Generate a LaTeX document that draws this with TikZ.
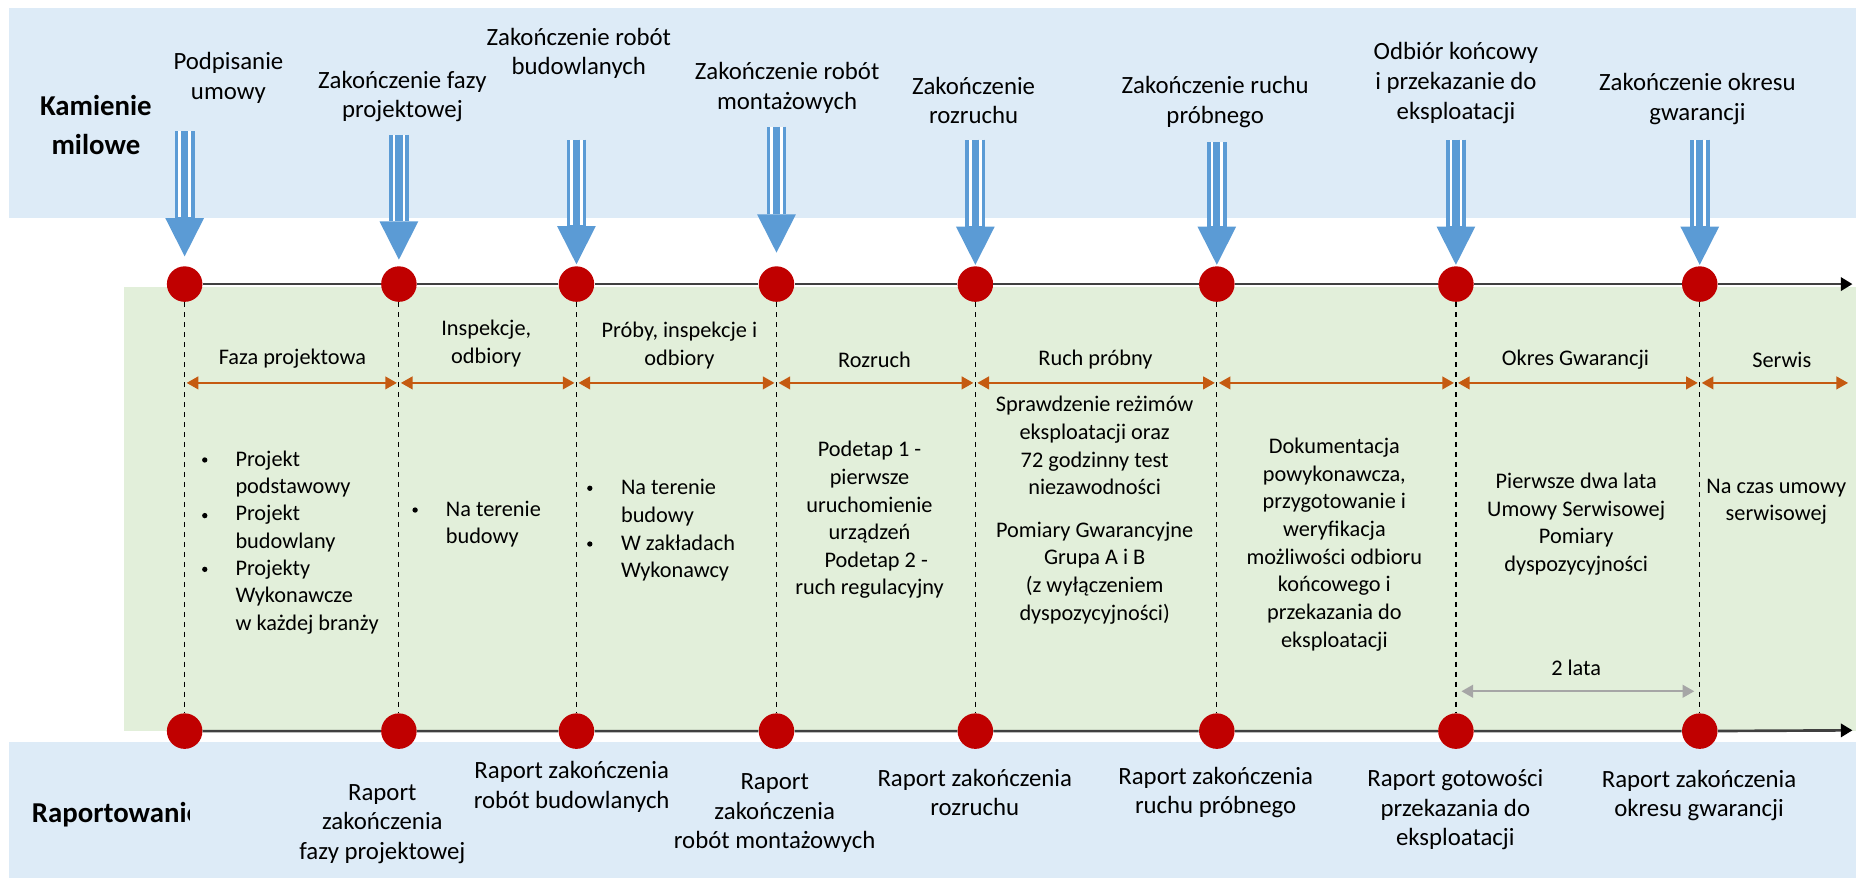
\documentclass[tikz,border=0pt]{standalone}
\usepackage{fontspec}
\setmainfont{Carlito}
\usepackage{tikz}
\usetikzlibrary{arrows.meta}
\usetikzlibrary{positioning}

\definecolor{bandblue}{RGB}{221,235,247}
\definecolor{bandgreen}{RGB}{226,239,218}
\definecolor{arrowblue}{RGB}{91,155,213}
\definecolor{dotred}{RGB}{192,0,0}
\definecolor{spanorange}{RGB}{197,90,17}
\definecolor{spangray}{RGB}{166,166,166}

\begin{document}
\begin{tikzpicture}
          [x=0.025cm, y=-0.025cm, node distance=8.675cm,
           every node/.style={align=center, inner sep=0pt, font=\fontsize{13.4}{16.6}\selectfont},
           mslabel/.style={font=\fontsize{14.9}{17.8}\selectfont},
           heading/.style={font=\fontsize{17.3}{23.4}\selectfont\bfseries},
           reddot/.style={circle, fill=dotred, minimum size=0.75cm},
           itemdot/.style={circle, fill=black, minimum size=3.2pt},
           timeline/.style={draw=black!75, line width=1.6pt, -{Triangle[length=7pt, width=8pt, color=black]}},
           msarrow/.style={draw=arrowblue, line width=11.9pt, shorten >=#1,
             -{Triangle[length=23pt, width=23.3pt, line width=0pt]},
             postaction={draw=white, double=arrowblue, line width=1.5pt, double distance=4.4pt,
               shorten >=#1+23.5pt, arrows=-}},
           msarrow/.default=0.7pt,
           phasespan/.style={draw=spanorange, line width=1.2pt, >={Triangle[length=7pt, width=7.6pt]}, <->,
             shorten <=1.2pt, shorten >=1.2pt},
           yearspan/.style={phasespan, draw=spangray, shorten <=3.3pt, shorten >=3.3pt}]

          \useasboundingbox (0,0) rectangle (1568,749);

          \fill[bandblue] (8,7) rectangle (1568,184.4);
          \fill[bandgreen] (105,242.7) rectangle (1568,617.3);
          \fill[bandblue] (8,626.6) rectangle (1568,742);

          \node (t1) [reddot] at (156,240) {};
          \node (t2) [reddot] at (337,240) {};
          \node (t3) [reddot] at (487,240) {};
          \node (t4) [reddot] at (656,240) {};
          \node (t5) [reddot] at (824,240) {};
          \node (t6) [reddot] at (1028,240) {};
          \node (t7) [reddot] at (1230,240) {};
          \node (t8) [reddot] at (1436,240) {};

          \node (b1) [reddot, below = of t1] {};
          \node (b2) [reddot, below = of t2] {};
          \node (b3) [reddot, below = of t3] {};
          \node (b4) [reddot, below = of t4] {};
          \node (b5) [reddot, below = of t5] {};
          \node (b6) [reddot, below = of t6] {};
          \node (b7) [reddot, below = of t7] {};
          \node (b8) [reddot, below = of t8] {};

          \coordinate (tend) at (1565,240);
          \coordinate (bend) at (1565,617);

          \draw[timeline] (t1) -- (t2) -- (t3) -- (t4) -- (t5) -- (t6) -- (t7) -- (t8) -- (tend);
          \draw[timeline] (b1) -- (b2) -- (b3) -- (b4) -- (b5) -- (b6) -- (b7) -- (b8) -- (bend);

          \draw[dashed, line width=0.7pt] (t1) -- (b1);
          \draw[dashed, line width=0.7pt] (t2) -- (b2);
          \draw[dashed, line width=0.7pt] (t3) -- (b3);
          \draw[dashed, line width=0.7pt] (t4) -- (b4);
          \draw[dashed, line width=0.7pt] (t5) -- (b5);
          \draw[dashed, line width=0.7pt] (t6) -- (b6);
          \draw[dashed, line width=0.7pt] (t7) -- (b7);
          \draw[dashed, line width=0.7pt] (t8) -- (b8);

          \coordinate (s1) at (156,111);
          \coordinate (s2) at (337,114);
          \coordinate (s3) at (487,118);
          \coordinate (s4) at (656,107);
          \coordinate (s5) at (824,118);
          \coordinate (s6) at (1028,120);
          \coordinate (s7) at (1230,118);
          \coordinate (s8) at (1436,118);

          \draw[msarrow=5.8pt] (s1) -- (t1);
          \draw[msarrow=3.8pt] (s2) -- (t2);
          \draw[msarrow=1pt] (s3) -- (t3);
          \draw[msarrow=8pt] (s4) -- (t4);
          \draw[msarrow] (s5) -- (t5);
          \draw[msarrow] (s6) -- (t6);
          \draw[msarrow] (s7) -- (t7);
          \draw[msarrow] (s8) -- (t8);

          \node (kam) [heading] at (81,106) {Kamienie\\milowe};
          \begin{scope}
            \clip (0,626.6) rectangle (160,742);
            \node (rap) [heading, anchor=west] at (26.7,688.5) {Raportowanie};
          \end{scope}

          \node (m1) [mslabel] at (193,66) {Podpisanie\\umowy};
          \node (m2) [mslabel] at (340,81.4) {Zakończenie fazy\\projektowej};
          \node (m3) [mslabel] at (489,45) {Zakończenie robót\\budowlanych};
          \node (m4) [mslabel] at (665,74) {Zakończenie robót\\montażowych};
          \node (m5) [mslabel] at (822.5,85) {Zakończenie\\rozruchu};
          \node (m6) [mslabel] at (1026.6,86) {Zakończenie ruchu\\próbnego};
          \node (m7) [mslabel] at (1230,70.2) {Odbiór końcowy\\i przekazanie do\\eksploatacji};
          \node (m8) [mslabel] at (1434,83.4) {Zakończenie okresu\\gwarancji};

          \coordinate (p1) at (156,323.5);
          \coordinate (p2) at (337,323.5);
          \coordinate (p3) at (487,323.5);
          \coordinate (p4) at (656,323.5);
          \coordinate (p5) at (824,323.5);
          \coordinate (p6) at (1028,323.5);
          \coordinate (p7) at (1230,323.5);
          \coordinate (p8) at (1436,323.5);
          \coordinate (p9) at (1563,323.5);

          \draw[phasespan] (p1) -- (p2);
          \draw[phasespan] (p2) -- (p3);
          \draw[phasespan] (p3) -- (p4);
          \draw[phasespan] (p4) -- (p5);
          \draw[phasespan] (p5) -- (p6);
          \draw[phasespan] (p6) -- (p7);
          \draw[phasespan] (p7) -- (p8);
          \draw[phasespan] (p8) -- (p9);

          \node (f1) [] at (247,302.7) {Faza projektowa};
          \node (f2) [] at (410.8,290.3) {Inspekcje,\\odbiory};
          \node (f3) [] at (574,292) {Próby, inspekcje i\\odbiory};
          \node (f4) [] at (738.8,304) {Rozruch};
          \node (f5) [] at (925.5,304) {Ruch próbny};
          \node (f7) [] at (1331,304) {Okres Gwarancji};
          \node (f8) [] at (1505.3,304) {Serwis};

          \node (d11) [itemdot] at (173,388.6) {};
          \node (d12) [itemdot] at (173,435.6) {};
          \node (d13) [itemdot] at (173,481) {};
          \node (e11) [anchor=west, align=left] at (198.7,400.5) {Projekt\\podstawowy};
          \node (e12) [anchor=west, align=left] at (198.7,446.6) {Projekt\\budowlany};
          \node (e13) [anchor=west, align=left] at (198.7,504.3) {Projekty\\Wykonawcze\\w każdej branży};

          \node (d21) [itemdot] at (350.7,430.9) {};
          \node (e21) [anchor=west, align=left] at (376.4,442.8) {Na terenie\\budowy};

          \node (d31) [itemdot] at (498.3,412.5) {};
          \node (d32) [itemdot] at (498.3,459.6) {};
          \node (e31) [anchor=west, align=left] at (524.4,424.5) {Na terenie\\budowy};
          \node (e32) [anchor=west, align=left] at (524.4,471.3) {W zakładach\\Wykonawcy};

          \node (e4) [] at (734.6,439.3) {Podetap 1 -\\pierwsze\\uruchomienie\\urządzeń\\\hspace*{0.6em}Podetap 2 -\\ruch regulacyjny};
          \node (e5) [] at (924.8,431) {Sprawdzenie reżimów\\eksploatacji oraz\\72 godzinny test\\niezawodności\\[9pt]Pomiary Gwarancyjne\\Grupa A i B\\(z wyłączeniem\\dyspozycyjności)};
          \node (e6) [] at (1127.3,460) {Dokumentacja\\powykonawcza,\\przygotowanie i\\weryfikacja\\możliwości odbioru\\końcowego i\\przekazania do\\eksploatacji};
          \node (e7) [] at (1331.6,442.8) {Pierwsze dwa lata\\Umowy Serwisowej\\Pomiary\\dyspozycyjności};
          \node (e8) [] at (1500.7,424) {Na czas umowy\\serwisowej};

          \coordinate (g1) at (1230,584);
          \coordinate (g2) at (1436,584);
          \draw[yearspan] (g1) -- (g2);
          \node (lata) [] at (1331.6,564.5) {2 lata};

          \node (r2) [mslabel] at (323,696) {Raport\\zakończenia\\fazy projektowej};
          \node (r3) [mslabel] at (483,665) {Raport zakończenia\\robót budowlanych};
          \node (r4) [mslabel] at (654.5,687) {Raport\\zakończenia\\robót montażowych};
          \node (r5) [mslabel] at (823.5,669.5) {Raport zakończenia\\rozruchu};
          \node (r6) [mslabel] at (1027,669.6) {Raport zakończenia\\ruchu próbnego};
          \node (r7) [mslabel] at (1229.5,684) {Raport gotowości\\przekazania do\\eksploatacji};
          \node (r8) [mslabel] at (1435.4,672) {Raport zakończenia\\okresu gwarancji};

        \end{tikzpicture}
\end{document}
